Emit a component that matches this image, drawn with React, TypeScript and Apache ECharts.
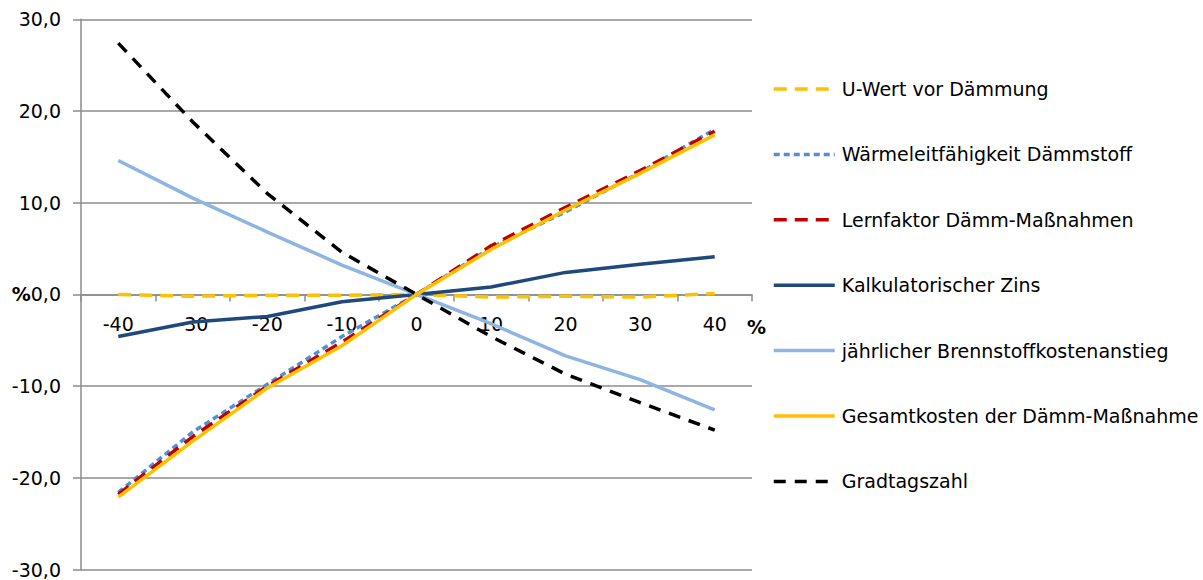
import React, { useEffect, useRef } from "react";
import * as echarts from "echarts";

const categories = ["-40", "-30", "-20", "-10", "0", "10", "20", "30", "40"];
const uWert = [0.0, -0.2, -0.1, -0.1, 0.0, -0.3, -0.2, -0.3, 0.1];
const waermeleit = [-21.6, -15.0, -9.8, -4.6, 0.0, 5.1, 9.0, 13.3, 18.0];
const lernfaktor = [-21.8, -15.5, -10.0, -5.2, 0.0, 5.3, 9.5, 13.5, 17.8];
const zins = [-4.6, -3.0, -2.4, -0.8, 0.0, 0.8, 2.4, 3.3, 4.1];
const brennstoff = [14.6, 10.5, 6.8, 3.2, 0.0, -3.2, -6.7, -9.3, -12.6];
const gesamtkosten = [-22.1, -16.0, -10.2, -5.6, 0.0, 4.9, 9.2, 13.2, 17.4];
const gradtagszahl = [27.4, 18.8, 11.0, 4.6, 0.0, -4.6, -8.7, -11.8, -14.8];

const FONT = "DejaVu Sans";
const GRID_TOP = 19.3;
const GRID_BOTTOM_Y = 569.5;

export default function App() {
  const ref = useRef<HTMLDivElement>(null);
  useEffect(() => {
    const chart = echarts.init(ref.current!, null, { renderer: "svg" });
    const mk = (name: string, data: number[], color: string, type: any, width = 3.5) => ({
      name,
      type: "line",
      data,
      symbol: "none",
      smooth: false,
      lineStyle: { color, width, type },
      itemStyle: { color },
    });
    const zeroY = (GRID_TOP + GRID_BOTTOM_Y) / 2;
    chart.setOption({
      animation: false,
      backgroundColor: "#ffffff",
      textStyle: { fontFamily: FONT },
      grid: {
        left: 81,
        right: 451,
        top: GRID_TOP,
        bottom: 580 - GRID_BOTTOM_Y,
        containLabel: false,
        outerBoundsMode: "none",
      },
      legend: {
        orient: "vertical",
        left: 772,
        top: 79,
        padding: 0,
        itemWidth: 61,
        itemHeight: 20,
        itemGap: 45.4,
        itemStyle: { opacity: 0 },
        lineStyle: { width: 3.5 },
        textStyle: { fontFamily: FONT, fontSize: 19, color: "#000", lineHeight: 20, padding: [0, 0, 0, 2] },
        data: [
          "U-Wert vor Dämmung",
          "Wärmeleitfähigkeit Dämmstoff",
          "Lernfaktor Dämm-Maßnahmen",
          "Kalkulatorischer Zins",
          "jährlicher Brennstoffkostenanstieg",
          "Gesamtkosten der Dämm-Maßnahme",
          "Gradtagszahl",
        ],
      },
      xAxis: {
        type: "category",
        data: categories,
        boundaryGap: true,
        offset: -(GRID_BOTTOM_Y - zeroY),
        axisLine: { onZero: false, lineStyle: { color: "#8c8c8c", width: 1.5 } },
        axisTick: { show: true, alignWithLabel: false, length: 7, lineStyle: { color: "#8c8c8c", width: 1.5 } },
        axisLabel: { fontFamily: FONT, fontSize: 19, color: "#000", margin: 20 },
        splitLine: { show: false },
      },
      yAxis: {
        type: "value",
        min: -30,
        max: 30,
        interval: 10,
        axisLine: { show: true, lineStyle: { color: "#8c8c8c", width: 1.5 } },
        axisTick: { show: true, length: 8, lineStyle: { color: "#8c8c8c", width: 1.5 } },
        splitLine: { show: true, lineStyle: { color: "#8c8c8c", width: 1.5 } },
        axisLabel: {
          fontFamily: FONT,
          fontSize: 19,
          color: "#000",
          margin: 20,
          formatter: (v: number) =>
            v === 0 ? "{b|%}0,0" : v.toFixed(1).replace(".", ","),
          rich: { b: { fontWeight: "bold", fontFamily: FONT, fontSize: 19, color: "#000" } },
        },
      },
      graphic: [
        {
          type: "text",
          left: 747,
          top: 317,
          style: { text: "%", font: `bold 19px "${FONT}"`, fill: "#000" },
        },
      ],
      series: [
        mk("U-Wert vor Dämmung", uWert, "#FFC000", [13, 8]),
        mk("Wärmeleitfähigkeit Dämmstoff", waermeleit, "#558ED5", [6, 4]),
        mk("Lernfaktor Dämm-Maßnahmen", lernfaktor, "#C00000", [13, 8]),
        mk("Kalkulatorischer Zins", zins, "#1F497D", "solid"),
        mk("jährlicher Brennstoffkostenanstieg", brennstoff, "#8EB4E3", "solid"),
        mk("Gesamtkosten der Dämm-Maßnahme", gesamtkosten, "#FFC000", "solid"),
        mk("Gradtagszahl", gradtagszahl, "#000000", [12, 9]),
      ],
    });
    return () => chart.dispose();
  }, []);
  return (
    <div
      ref={ref}
      style={{ position: "fixed", left: 0, top: 0, width: 1203, height: 580 }}
    />
  );
}
